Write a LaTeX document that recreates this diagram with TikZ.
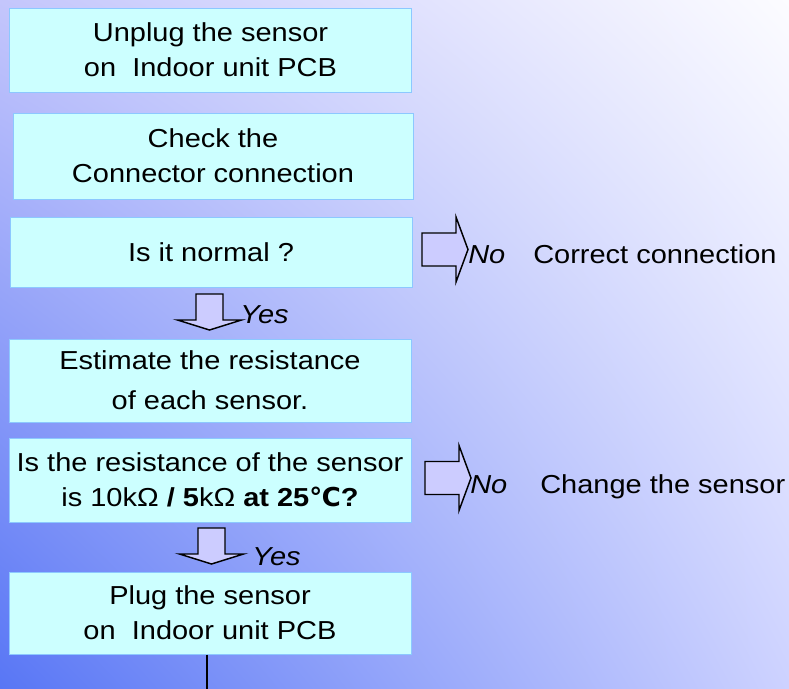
\documentclass[tikz,border=0pt]{standalone}
\usepackage{fontspec}
\setmainfont{Liberation Sans}[FakeStretch=1.115]
\newfontfamily\degfont{DejaVu Sans}
\usetikzlibrary{positioning,shadings}
\definecolor{boxfill}{RGB}{204,255,255}
\definecolor{boxline}{RGB}{140,200,255}
\definecolor{arrowfill}{RGB}{204,204,255}
\definecolor{bgUL}{RGB}{196,198,252}
\definecolor{bgUR}{RGB}{252,252,255}
\definecolor{bgLL}{RGB}{88,118,245}
\definecolor{bgLR}{RGB}{205,210,255}
\tikzset{
  downblk/.pic={\draw[blk] (-13.5,0) -- (13.5,0) -- (13.5,26) -- (32,26) -- (0,36) -- (-32,26) -- (-13.5,26) -- cycle;},
  rightblk/.pic={\draw[blk] (0,-16.5) -- (34,-16.5) -- (34,-32.5) -- (46,0) -- (34,32.5) -- (34,16.5) -- (0,16.5) -- cycle;}
}
\begin{document}
\begin{tikzpicture}[x=0.75pt, y=-0.75pt, font=\fontsize{19.5}{26.25}\selectfont,
  box/.style={draw=boxline, line width=0.75pt, fill=boxfill, minimum width=301.5pt, align=center, inner sep=0pt},
  blk/.style={draw=black, line width=1.1pt, fill=arrowfill, line join=miter},
  lbl/.style={anchor=base west, inner sep=0pt}]
  \useasboundingbox (0,0) rectangle (789,689);
  % background
  \shade[upper left=bgUL, upper right=bgUR, lower left=bgLL, lower right=bgLR] (0,0) rectangle (789,689);
  % steps
  \node[box, minimum height=63pt] (unplug) at (210.5,50) {Unplug the sensor\\on\ \ Indoor unit PCB};
  \node[box, minimum width=300pt, minimum height=64.5pt] (check) at (213,156) {Check the\\Connector connection};
  \node[box, minimum height=52.5pt] (normal) at (211,252) {Is it normal ?};
  \node[box, minimum height=62.25pt, font=\fontsize{19.5}{30}\selectfont] (estimate) at (210,380.5) {Estimate the resistance\\of each sensor.};
  \node[box, minimum height=63pt] (resist) at (210,480) {Is the resistance of the sensor\\is 10kΩ \textbf{/ 5}kΩ \textbf{at 25{\degfont ℃}?}};
  \node[box, minimum height=61.5pt] (plug) at (210,613) {Plug the sensor\\on\ \ Indoor unit PCB};
  % block arrows
  \pic at (209.5,294) {downblk};
  \pic at (211.5,528) {downblk};
  \pic at (422,249.5) {rightblk};
  \pic at (425,478) {rightblk};
  % answers
  \node[lbl] (yes1) at (240,323) {\itshape Yes};
  \node[lbl] (yes2) at (252,565) {\itshape Yes};
  \node[lbl] (no1) at (468,263) {\itshape No};
  \node[lbl] (fix) at (533,263) {Correct connection};
  \node[lbl] (no2) at (470,493) {\itshape No};
  \node[lbl] (swap) at (540,493) {Change the sensor};
  % continues below
  \coordinate (tail) at (207,689);
  \draw[line width=1.1pt] (plug.south -| tail) -- (tail);
\end{tikzpicture}
\end{document}
